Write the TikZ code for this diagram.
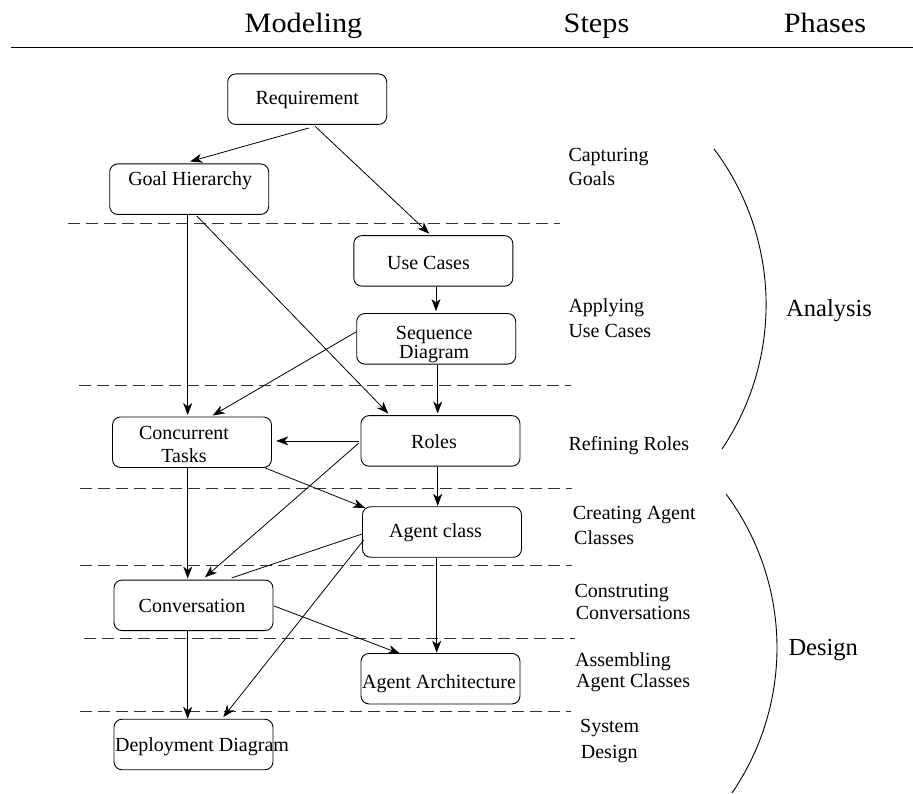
\documentclass[tikz,border=0pt]{standalone}
\usepackage{fontspec}
\usepackage{graphicx}
\setmainfont{Liberation Serif}
\newfontfamily\titlefont{Liberation Serif}
\usetikzlibrary{arrows.meta}

% text of a box, centred on a point shifted #1 pt sideways
\newcommand{\ctext}[2]{\kern#1pt\makebox[0pt]{#2}\kern-#1pt}
% slightly widened heading text
\newcommand{\widehead}[1]{\scalebox{1.08}[1]{\titlefont #1}}

\begin{document}
\begin{tikzpicture}[x=1pt,y=-1pt,
  stage/.style={draw, line width=0.9pt, rounded corners=8pt,
    minimum width=159pt, minimum height=50.5pt, inner sep=0pt,
    font=\fontsize{20}{20}\selectfont},
  flow/.style={-{Stealth[length=12pt,width=9pt,inset=3.5pt]}, line width=0.8pt},
  link/.style={line width=0.8pt},
  sep/.style={dash pattern=on 12pt off 6pt, line width=0.9pt, draw=black!80},
  steplabel/.style={anchor=base west, inner sep=0pt, font=\fontsize{20}{24}\selectfont},
  colhead/.style={anchor=base, inner sep=0pt, font=\rmfamily\fontsize{28}{32}\selectfont},
  phase/.style={anchor=base west, inner sep=0pt, font=\fontsize{24.5}{28}\selectfont},
  phasearc/.style={line width=0.9pt}]

\useasboundingbox (0,0) rectangle (913,794);

% column headings and rule
\node[colhead] (hmod)   at (303.5,33) {\widehead{Modeling}};
\node[colhead] (hstep)  at (596.5,33) {\widehead{Steps}};
\node[colhead] (hphase) at (825,33)   {\widehead{Phases}};
\coordinate (ruleL) at (10.5,47.7);
\coordinate (ruleR) at (913,47.7);
\draw[line width=1.3pt] (ruleL) -- (ruleR);

% step separators
\coordinate (s1a) at (68,223.3);  \coordinate (s1b) at (560,223.3);
\coordinate (s2a) at (79,385.3);  \coordinate (s2b) at (571,385.3);
\coordinate (s3a) at (80,488.5);  \coordinate (s3b) at (572,488.5);
\coordinate (s4a) at (80,565);    \coordinate (s4b) at (572,565);
\coordinate (s5a) at (84,638);    \coordinate (s5b) at (575,638);
\coordinate (s6a) at (80,711.5);  \coordinate (s6b) at (571,711.5);
\draw[sep] (s1a) -- (s1b);
\draw[sep] (s2a) -- (s2b);
\draw[sep] (s3a) -- (s3b);
\draw[sep] (s4a) -- (s4b);
\draw[sep] (s5a) -- (s5b);
\draw[sep] (s6a) -- (s6b);

% modeling boxes
\node[stage, text height=17.8pt, text depth=6.2pt]  (req)     at (307.2,99.2)  {\ctext{0}{Requirement}};
\node[stage, text height=8.8pt,  text depth=15.2pt] (goal)    at (189.2,189.2) {\ctext{1}{Goal Hierarchy}};
\node[stage, text height=20.4pt, text depth=3.6pt]  (usecase) at (433.3,260.9) {\ctext{-4.8}{Use Cases}};
\node[stage, text height=12.2pt, text depth=11.8pt] (seq)     at (436.2,338.8)
  {\ctext{-2}{\begin{tabular}[t]{@{}c@{}}Sequence\\Diagram\end{tabular}}};
\node[stage, text height=8.8pt,  text depth=15.2pt] (tasks)   at (192,442.2)
  {\ctext{-8}{\begin{tabular}[t]{@{}c@{}}Concurrent\\[3pt]Tasks\end{tabular}}};
\node[stage, text height=19.4pt, text depth=4.6pt]  (roles)   at (440.5,440.9) {\ctext{-6.5}{Roles}};
\node[stage, text height=17.3pt, text depth=6.7pt]  (agent)   at (442,532)     {\ctext{-6.5}{Agent class}};
\node[stage, text height=19pt,   text depth=5pt]    (conv)    at (193.5,605.3) {\ctext{-1.5}{Conversation}};
\node[stage, text height=21.6pt, text depth=2.4pt]  (arch)    at (440.5,678.7) {\ctext{-1.5}{Agent Architecture}};
\node[stage, text height=19.2pt, text depth=4.8pt]  (deploy)  at (193.5,744.5) {\ctext{8.5}{Deployment Diagram}};

% dependencies between models
\draw[flow] ([xshift=2pt,yshift=-3pt]req.south) -- ([xshift=1pt,yshift=2pt]goal.north);
\draw[flow] ([xshift=8pt,yshift=-1.5pt]req.south) -- ([xshift=-4pt,yshift=1.5pt]usecase.north);
\draw[flow] ([xshift=-1.5pt]goal.south) -- ([xshift=-4.3pt,yshift=1.5pt]tasks.north);
\draw[flow] ([xshift=7.5pt,yshift=-1pt]goal.south) -- ([xshift=-52.2pt,yshift=1.7pt]roles.north);
\draw[flow] ([xshift=2.7pt]usecase.south) -- ([xshift=-0.2pt,yshift=2pt]seq.north);
\draw[flow] ([yshift=7pt]seq.west) -- ([xshift=20.7pt,yshift=1pt]tasks.north);
\draw[flow] ([xshift=1.5pt]seq.south) -- ([xshift=-2.8pt,yshift=1.7pt]roles.north);
\draw[flow] ([xshift=-2pt]roles.west) -- ([xshift=4.3pt,yshift=1.3pt]tasks.east);
\draw[flow] ([xshift=-2pt,yshift=-2.4pt]roles.west) -- ([xshift=11.5pt,yshift=2.3pt]conv.north);
\draw[flow] ([xshift=73pt]tasks.south) -- ([xshift=3pt,yshift=-1.6pt]agent.north west);
\draw[flow] ([xshift=-2.8pt]roles.south) -- ([xshift=-4.3pt,yshift=0.5pt]agent.north);
\draw[flow] ([xshift=-4.3pt]tasks.south) -- ([xshift=-5.8pt,yshift=1pt]conv.north);
\draw[link] ([yshift=-2pt]agent.west) -- ([xshift=38.2pt,yshift=1.7pt]conv.north);
\draw[flow] ([xshift=1.7pt,yshift=-8pt]agent.west) -- ([xshift=29.8pt,yshift=1.7pt]deploy.north);
\draw[flow] ([xshift=-5.3pt]agent.south) -- ([xshift=-3.8pt,yshift=0.3pt]arch.north);
\draw[flow] ([xshift=0.6pt,yshift=-0.7pt]conv.east) -- ([xshift=-40.5pt,yshift=-0.7pt]arch.north);
\draw[flow] ([xshift=-5.8pt]conv.south) -- ([xshift=-5.8pt]deploy.north);

% step names
\node[steplabel] (st1a) at (568.3,161.7) {Capturing};
\node[steplabel] (st1b) at (568.3,185.7) {Goals};
\node[steplabel] (st2a) at (568.3,312.7) {Applying};
\node[steplabel] (st2b) at (568.3,337.3) {Use Cases};
\node[steplabel] (st3a) at (568.3,450)   {Refining Roles};
\node[steplabel] (st4a) at (572.7,519.3) {Creating Agent};
\node[steplabel] (st4b) at (574,544)     {Classes};
\node[steplabel] (st5a) at (574.3,597.3) {Construting};
\node[steplabel] (st5b) at (575.7,619)   {Conversations};
\node[steplabel] (st6a) at (575,666.7)   {Assembling};
\node[steplabel] (st6b) at (576,687.3)   {Agent Classes};
\node[steplabel] (st7a) at (580,732.7)   {System};
\node[steplabel] (st7b) at (580.7,758.3) {Design};

% phase brackets
\draw[phasearc] plot[domain=-37:34, samples=80, variable=\t]
  ({507.5+258.6*cos(\t)}, {304.6+258.6*sin(\t)});
\draw[phasearc] plot[domain=-36.7:34.4, samples=80, variable=\t]
  ({519.9+257.1*cos(\t)}, {647.7+257.1*sin(\t)});
\node[phase] (analysis) at (786,316.7) {Analysis};
\node[phase] (design)   at (788.3,655)  {Design};

\end{tikzpicture}
\end{document}
